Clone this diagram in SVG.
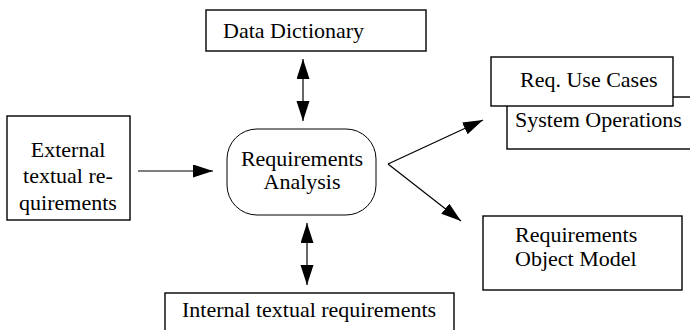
<svg xmlns="http://www.w3.org/2000/svg" width="690" height="330" viewBox="0 0 690 330">
  <style>
    .box { fill: #fff; stroke: #000; stroke-width: 1.4; }
    .proc { fill: #fff; stroke: #000; stroke-width: 1; }
    .lbl { font-family: "Liberation Serif", "Times New Roman", serif; font-size: 22px; fill: #000; }
    .mid { text-anchor: middle; }
    .conn { stroke: #000; stroke-width: 1.2; fill: none; }
  </style>
  <defs>
    <marker id="head" markerUnits="userSpaceOnUse" markerWidth="21" markerHeight="14" refX="20" refY="6.5" orient="auto-start-reverse">
      <path d="M0,0 L20,6.5 L0,13 Z" fill="#000"/>
    </marker>
  </defs>
  <rect width="690" height="330" fill="#fff"/>

  <g id="connectors">
    <line class="conn" x1="303" y1="59" x2="303" y2="121" marker-start="url(#head)" marker-end="url(#head)"/>
    <line class="conn" x1="307" y1="223" x2="307" y2="285" marker-start="url(#head)" marker-end="url(#head)"/>
    <line class="conn" x1="138" y1="171" x2="213" y2="171" marker-end="url(#head)"/>
    <line class="conn" x1="388" y1="164" x2="483" y2="120" marker-end="url(#head)"/>
    <line class="conn" x1="388" y1="164" x2="461" y2="221" marker-end="url(#head)"/>
  </g>

  <g id="data-dictionary">
    <rect class="box" x="206" y="10" width="220" height="41"/>
    <text class="lbl" x="223" y="38">Data Dictionary</text>
  </g>

  <g id="external-requirements">
    <rect class="box" x="7" y="116" width="123" height="104"/>
    <text class="lbl mid" x="68" y="157">External</text>
    <text class="lbl mid" x="68" y="183">textual re-</text>
    <text class="lbl mid" x="68" y="210">quirements</text>
  </g>

  <g id="requirements-analysis">
    <rect class="proc" x="227" y="129" width="149" height="86" rx="30" ry="30"/>
    <text class="lbl mid" x="302" y="166">Requirements</text>
    <text class="lbl mid" x="302" y="189">Analysis</text>
  </g>

  <g id="system-operations">
    <rect class="box" x="507" y="97" width="200" height="52"/>
    <text class="lbl" x="515" y="127">System Operations</text>
  </g>

  <g id="use-cases">
    <rect class="box" x="491" y="57" width="182" height="49"/>
    <text class="lbl" x="520" y="87">Req. Use Cases</text>
  </g>

  <g id="object-model">
    <rect class="box" x="483" y="216" width="199" height="74"/>
    <text class="lbl" x="515" y="242">Requirements</text>
    <text class="lbl" x="515" y="266">Object Model</text>
  </g>

  <g id="internal-requirements">
    <rect class="box" x="165" y="293" width="289" height="50"/>
    <text class="lbl" x="182" y="317">Internal textual requirements</text>
  </g>
</svg>
